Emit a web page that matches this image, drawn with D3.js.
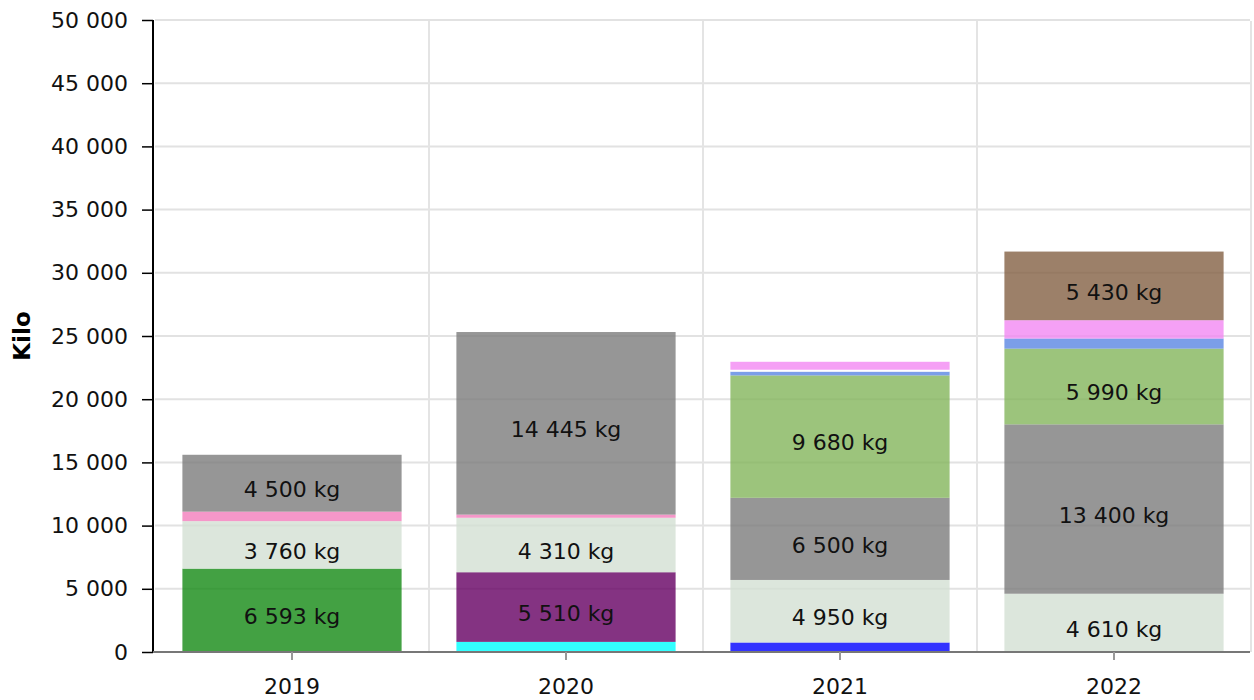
<!DOCTYPE html>
<html>
<head>
<meta charset="utf-8">
<script src="https://cdn.jsdelivr.net/npm/d3@7"></script>
<style>
  body { margin: 0; background: #fff; }
  text { font-family: "DejaVu Sans", Verdana, sans-serif; }
</style>
</head>
<body>
<div id="chart"></div>
<script>
var years = ["2019", "2020", "2021", "2022"];

// stacking order, bottom to top
var keys = ["s1", "s2", "s3", "s4", "s5", "s6", "s7", "s8", "s9", "s10", "s11", "s12"];
var colors = ["#148a14", "#00ffff", "#0000ff", "#650063", "#d3e0d3", "#f27dbb",
              "#7c7c7c", "#83b55b", "#5a86e2", "#ffffff", "#f288f2", "#836043"];

var s1  = [6593, 0, 0, 0];
var s2  = [0, 800, 0, 0];
var s3  = [0, 0, 750, 0];
var s4  = [0, 5510, 0, 0];
var s5  = [3760, 4310, 4950, 4610];
var s6  = [750, 250, 0, 0];
var s7  = [4500, 14445, 6500, 13400];
var s8  = [0, 0, 9680, 5990];
var s9  = [0, 0, 300, 800];
var s10 = [0, 0, 150, 0];
var s11 = [0, 0, 630, 1450];
var s12 = [0, 0, 0, 5430];

var yTicks = [0, 5000, 10000, 15000, 20000, 25000, 30000, 35000, 40000, 45000, 50000];

var series = [s1, s2, s3, s4, s5, s6, s7, s8, s9, s10, s11, s12];
var rows = years.map(function(yr, i) {
    var r = { year: yr };
    keys.forEach(function(k, j) { r[k] = series[j][i]; });
    return r;
});

var width = 1254, height = 700;
var margin = { top: 20, right: 3, bottom: 48, left: 155 };
var fontSize = "22px";

var fmt = function(v) { return d3.format(",")(v).replace(/,/g, " "); };

var svg = d3.select("#chart")
    .append("svg")
    .attr("width", width)
    .attr("height", height);

var x = d3.scaleBand()
    .domain(years)
    .range([margin.left, width - margin.right])
    .paddingInner(0.2)
    .paddingOuter(0.1);

var y = d3.scaleLinear()
    .domain([0, 50000])
    .range([height - margin.bottom, margin.top]);

// grid
svg.append("g")
    .selectAll("line")
    .data(yTicks)
    .enter()
    .append("line")
    .attr("x1", margin.left)
    .attr("x2", width - margin.right - 1)
    .attr("y1", function(d) { return y(d); })
    .attr("y2", function(d) { return y(d); })
    .style("stroke", "#e2e2e2")
    .style("stroke-width", 2);

var vLines = years.slice(1).map(function(d) { return x(d) - x.step() * x.paddingInner() / 2; });
vLines.push(width - margin.right);
svg.append("g")
    .selectAll("line")
    .data(vLines)
    .enter()
    .append("line")
    .attr("x1", function(d) { return d; })
    .attr("x2", function(d) { return d; })
    .attr("y1", margin.top + 1)
    .attr("y2", y(0))
    .style("stroke", "#e4e4e4")
    .style("stroke-width", 2);

// bars
var stack = d3.stack().keys(keys)(rows);

var layer = svg.append("g")
    .selectAll("g")
    .data(stack)
    .enter()
    .append("g")
    .style("fill", function(d, i) { return colors[i]; })
    .style("fill-opacity", 0.8);

layer.selectAll("rect")
    .data(function(d) { return d.filter(function(p) { return p[1] - p[0] > 0; }); })
    .enter()
    .append("rect")
    .attr("x", function(d) { return x(d.data.year); })
    .attr("width", x.bandwidth())
    .attr("y", function(d) { return y(d[1]); })
    .attr("height", function(d) { return y(d[0]) - y(d[1]); });

// value labels
var labels = [];
stack.forEach(function(s) {
    s.forEach(function(p) {
        if (p[1] - p[0] >= 2000) labels.push(p);
    });
});

svg.append("g")
    .selectAll("text")
    .data(labels)
    .enter()
    .append("text")
    .attr("x", function(d) { return x(d.data.year) + x.bandwidth() / 2; })
    .attr("y", function(d) { return (y(d[0]) + y(d[1])) / 2 + 6; })
    .attr("dy", "0.35em")
    .style("text-anchor", "middle")
    .style("font-size", fontSize)
    .style("fill", "#111")
    .text(function(d) { return fmt(d[1] - d[0]) + " kg"; });

// axes
var yAxis = svg.append("g")
    .attr("transform", "translate(" + (margin.left - 2) + ",0)")
    .call(d3.axisLeft(y).tickValues(yTicks).tickSize(11).tickPadding(14).tickFormat(fmt));
yAxis.select(".domain").style("stroke", "#000").style("stroke-width", 2)
    .attr("d", "M0," + y(50000) + "V" + y(0));
yAxis.selectAll(".tick line").style("stroke", "#000").style("stroke-width", 1.5);
yAxis.selectAll("text").style("font-size", fontSize).style("fill", "#111")
    .style("font-family", "DejaVu Sans");

var xAxis = svg.append("g")
    .attr("transform", "translate(0," + y(0) + ")")
    .call(d3.axisBottom(x).tickSize(8).tickPadding(18));
xAxis.select(".domain").style("stroke", "#777").style("stroke-width", 2)
    .attr("d", "M" + (margin.left - 2) + ",0H" + (width - margin.right - 1));
xAxis.selectAll(".tick line").style("stroke", "#999").style("stroke-width", 2);
xAxis.selectAll("text").style("font-size", fontSize).style("fill", "#111")
    .style("font-family", "DejaVu Sans");

svg.append("text")
    .attr("transform", "translate(30," + ((y(0) + y(50000)) / 2) + ") rotate(-90)")
    .style("text-anchor", "middle")
    .style("font-size", "23px")
    .style("font-weight", "bold")
    .style("fill", "#000")
    .text("Kilo");
</script>
</body>
</html>
